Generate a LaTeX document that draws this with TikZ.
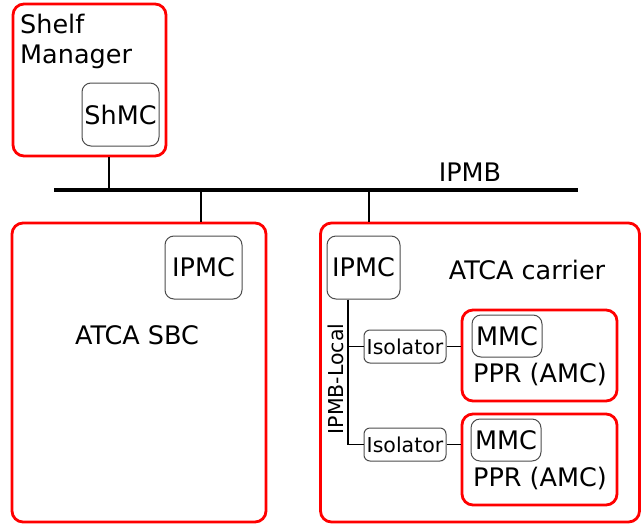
\documentclass[tikz,border=0pt]{standalone}
\usepackage{fontspec}
\setmainfont{DejaVu Sans}
\begin{document}
\begin{tikzpicture}[x=1pt,y=-1pt,
  redbox/.style={draw=red,line width=2.8pt,rounded corners=11pt,inner sep=0pt},
  graybox/.style={draw=black!70,line width=1pt,rounded corners=9pt,inner sep=0pt,font=\fontsize{25.5}{30}\selectfont},
  isobox/.style={draw=black!70,line width=1pt,rounded corners=6pt,inner sep=0pt,font=\fontsize{20.5}{24}\selectfont},
  lbl/.style={font=\fontsize{25.5}{30}\selectfont,inner sep=0pt},
  wire/.style={line width=1.8pt},
  bus/.style={line width=3.2pt}]
\useasboundingbox (0,0) rectangle (642,525);
% boxes
\node[redbox,minimum width=153pt,minimum height=152pt] (shelf) at (89.5,80) {};
\node[lbl,anchor=north west,align=left] (shelft) at (20,14) {Shelf\\Manager};
\node[graybox,minimum width=77pt,minimum height=63pt] (shmc) at (120.5,114.5) {ShMC};
\node[redbox,minimum width=254pt,minimum height=299pt] (sbc) at (139,372.5) {};
\node[graybox,minimum width=77pt,minimum height=63pt] (ipmc1) at (203.5,267.5) {IPMC};
\node[lbl] (sbct) at (137,335) {ATCA SBC};
\node[redbox,minimum width=319pt,minimum height=299pt] (carrier) at (480,372.5) {};
\node[graybox,minimum width=73pt,minimum height=63pt] (ipmc2) at (363.5,267.5) {IPMC};
\node[lbl] (carriert) at (527,270) {ATCA carrier};
\node[isobox,minimum width=82pt,minimum height=33pt] (iso1) at (405,346.5) {Isolator};
\node[isobox,minimum width=82pt,minimum height=33pt] (iso2) at (405,444.5) {Isolator};
\node[redbox,minimum width=155pt,minimum height=91pt] (ppr1) at (539.5,355.5) {};
\node[graybox,minimum width=70pt,minimum height=42pt] (mmc1) at (507,336) {MMC};
\node[lbl] (ppr1t) at (540,374) {PPR (AMC)};
\node[redbox,minimum width=155pt,minimum height=91pt] (ppr2) at (539.5,459.5) {};
\node[graybox,minimum width=70pt,minimum height=42pt] (mmc2) at (506,440) {MMC};
\node[lbl] (ppr2t) at (540,478) {PPR (AMC)};
\node[lbl] (ipmbt) at (470,172) {IPMB};
\node[font=\fontsize{20.5}{24}\selectfont,inner sep=0pt,rotate=90] (localt) at (336,379) {IPMB-Local};
% bus
\coordinate (busl) at (54,190);
\coordinate (busr) at (578,190);
\draw[bus] (busl) -- (busr);
\coordinate (j1) at (109,190);
\coordinate (j2) at (201,190);
\coordinate (j3) at (369,190);
\draw[wire] (j1) -- (j1 |- shelf.south);
\draw[wire] (j2) -- (j2 |- sbc.north);
\draw[wire] (j3) -- (j3 |- carrier.north);
% local bus
\coordinate (lb) at (348,444.5);
\draw[wire,line width=1.3pt] (ipmc2.south -| lb) -- (lb) -- (iso2.west);
\draw[wire,line width=1.3pt] (lb |- iso1.west) -- (iso1.west);
\draw[wire,line width=1.3pt] (iso1.east) -- (iso1.east -| ppr1.west);
\draw[wire,line width=1.3pt] (iso2.east) -- (iso2.east -| ppr2.west);
\end{tikzpicture}
\end{document}
